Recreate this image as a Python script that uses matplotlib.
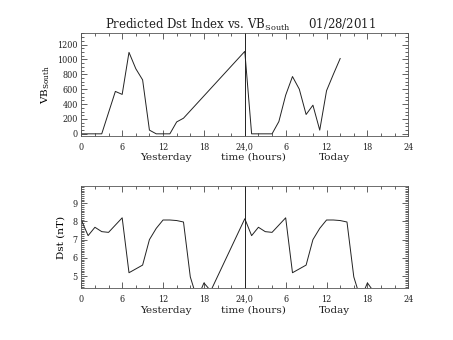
import matplotlib
matplotlib.use("Agg")
import matplotlib.pyplot as plt
from matplotlib.ticker import MultipleLocator

plt.rcParams["font.family"] = "DejaVu Serif"
plt.rcParams["mathtext.fontset"] = "dejavuserif"

# VB_south, hours since start of yesterday
vb_hours = [0, 1, 2, 3, 5, 6, 7, 8, 9, 10, 11, 12, 13, 14, 15, 24,
            25, 26, 27, 28, 29, 30, 31, 32, 33, 34, 35, 36, 37, 38]
vb_values = [0, 0, 0, 0, 570, 530, 1095, 875, 725, 50, 0, 0, 0, 160, 210, 1108,
             0, 0, 0, 0, 165, 520, 770, 600, 260, 385, 50, 580, 800, 1012]

# predicted Dst, hours since start of yesterday
dst_hours = [0, 1, 2, 3, 4, 6, 7, 9, 10, 11, 12, 13, 14, 15, 16, 17, 18, 19, 24,
             25, 26, 27, 28, 30, 31, 33, 34, 35, 36, 37, 38, 39, 40, 41, 42, 43]
dst_values = [8.08, 7.22, 7.68, 7.44, 7.40, 8.20, 5.18, 5.60, 7.00, 7.62, 8.08, 8.08,
              8.05, 7.97, 4.95, 3.73, 4.62, 4.18, 8.15,
              7.22, 7.68, 7.44, 7.40, 8.20, 5.18, 5.60, 7.00, 7.62, 8.08, 8.08,
              8.05, 7.97, 4.95, 3.73, 4.62, 4.10]

xtick_pos = [0, 6, 12, 18, 24, 30, 36, 42, 48]
xtick_labels = ["0", "6", "12", "18", "24,0", "6", "12", "18", "24"]

W, H = 453, 340
fig = plt.figure(figsize=(W / 100, H / 100), dpi=100)

ax1 = fig.add_axes([81.3 / W, 1 - 135.7 / H, 327 / W, 102.7 / H])
ax2 = fig.add_axes([81.3 / W, 1 - 288 / H, 327 / W, 102 / H])

lw = 0.7
ink = "#222222"

ax1.plot(vb_hours, vb_values, color=ink, lw=lw)
ax1.set_ylim(-25, 1355)
ax1.yaxis.set_major_locator(MultipleLocator(200))
ax1.yaxis.set_minor_locator(MultipleLocator(50))
ax1.set_ylabel("VB$_{\\rm South}$", fontsize=7.5, labelpad=4)

ax2.plot(dst_hours, dst_values, color=ink, lw=lw)
ax2.set_ylim(4.34, 9.95)
ax2.yaxis.set_major_locator(MultipleLocator(1))
ax2.yaxis.set_minor_locator(MultipleLocator(0.1))
ax2.set_ylabel("Dst (nT)", fontsize=7.5, labelpad=5)

for ax in (ax1, ax2):
    ax.set_xlim(0, 48)
    ax.set_xticks(xtick_pos)
    ax.set_xticklabels(xtick_labels)
    ax.xaxis.set_minor_locator(MultipleLocator(2))
    ax.axvline(24, color=ink, lw=lw)
    ax.tick_params(which="both", direction="in", top=True, right=True,
                   width=0.5, colors=ink, labelsize=6.5)
    ax.tick_params(axis="x", pad=5)
    ax.tick_params(axis="y", pad=2.5)
    ax.tick_params(which="major", length=4)
    ax.tick_params(which="minor", length=2)
    for lab in ax.get_xticklabels() + ax.get_yticklabels():
        lab.set_fontstretch("condensed")
    for s in ax.spines.values():
        s.set_linewidth(0.6)
        s.set_color("#555555")
    ax.set_facecolor("white")

# day / axis labels under each panel
for y in (157, 310.5):
    fig.text(166 / W, 1 - y / H, "Yesterday", fontsize=7.5, ha="center", va="center", color=ink)
    fig.text(253 / W, 1 - y / H, "time (hours)", fontsize=7.5, ha="center", va="center", color=ink)
    fig.text(334 / W, 1 - y / H, "Today", fontsize=7.5, ha="center", va="center", color=ink)

fig.text(241 / W, 1 - 25 / H,
         "Predicted Dst Index vs. VB$_{\\rm South}$     01/28/2011",
         fontsize=8.5, ha="center", va="center", color=ink)

fig.savefig("out.png", dpi=100, facecolor="white")
